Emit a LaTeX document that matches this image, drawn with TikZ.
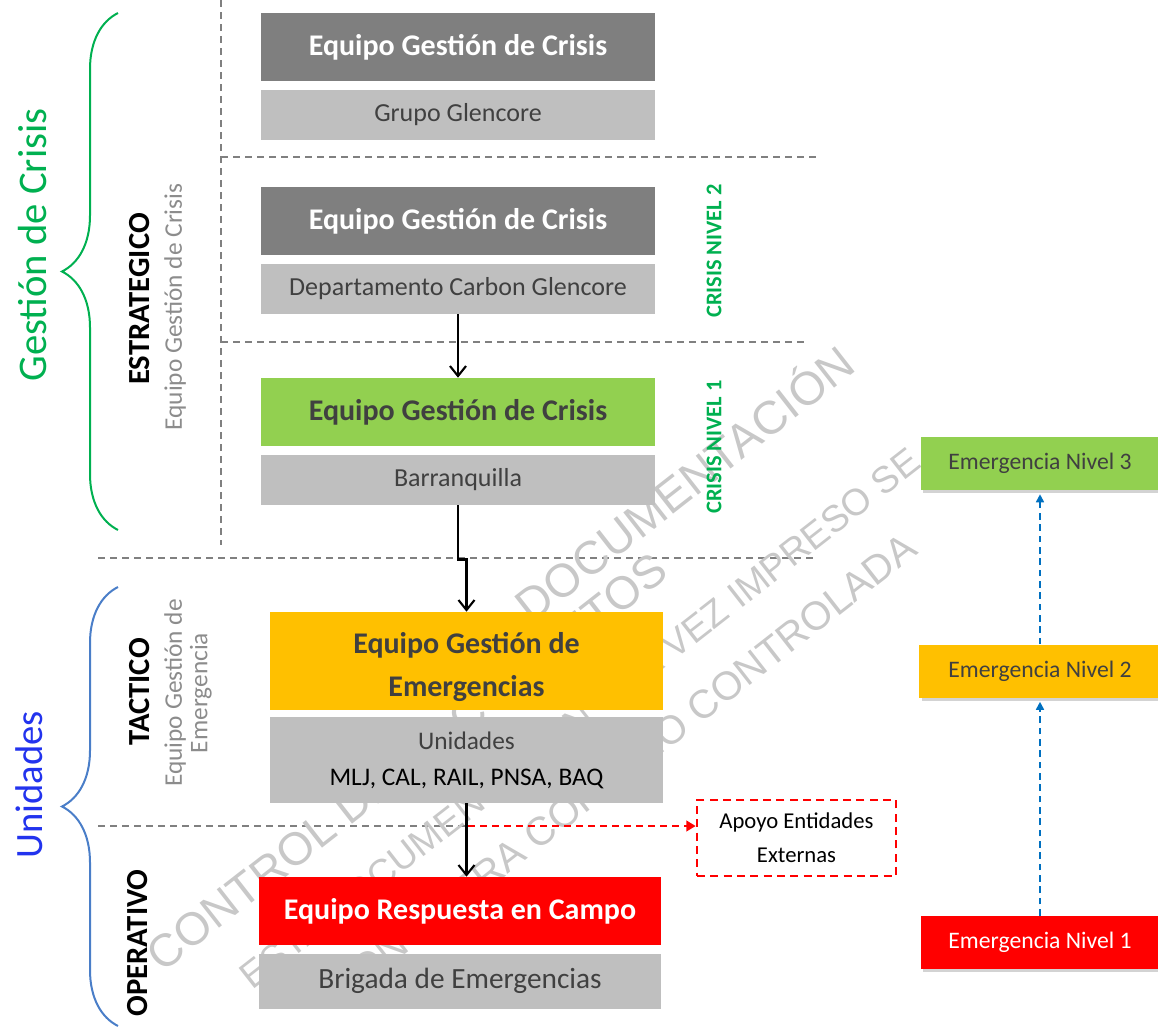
\documentclass[tikz,border=0pt]{standalone}
\usepackage{fontspec}
\setmainfont{Carlito}
\newfontfamily\wmfont{Liberation Sans}
\usepackage{tikz}
\usetikzlibrary{positioning,decorations.pathreplacing,arrows.meta,shadows}

\definecolor{boxdark}{HTML}{7F7F7F}
\definecolor{boxlight}{HTML}{BFBFBF}
\definecolor{lvgreen}{HTML}{92D050}
\definecolor{lvorange}{HTML}{FFC000}
\definecolor{lvred}{HTML}{FF0000}
\definecolor{txtdark}{HTML}{404040}
\definecolor{labelgray}{HTML}{8C8C8C}
\definecolor{crisisgreen}{HTML}{00B050}
\definecolor{unidblue}{HTML}{2233EE}
\definecolor{arrowblue}{HTML}{0070C0}
\definecolor{bracblue}{HTML}{4A7EC8}
\definecolor{sepgray}{HTML}{808080}
\definecolor{wmgray}{HTML}{C8C8C8}

\begin{document}
\begin{tikzpicture}
[x=0.75pt, y=-0.75pt,
every node/.style={inner sep=0pt, align=center},
headbox/.style={fill=#1, minimum width=295.5pt, minimum height=51pt, font=\bfseries\fontsize{22.5}{32}\selectfont},
subbox/.style={fill=boxlight, text=txtdark, minimum width=295.5pt, minimum height=38pt, font=\fontsize{19.5}{27}\selectfont},
sidelbl/.style={rotate=90, font=\bfseries\fontsize{23}{26}\selectfont},
sidesub/.style={rotate=90, text=labelgray, font=\fontsize{19}{19}\selectfont},
crisislbl/.style={rotate=90, text=crisisgreen, font=\bfseries\fontsize{16.8}{18}\selectfont},
nivelbox/.style={fill=#1, minimum width=179pt, minimum height=39.75pt, font=\fontsize{17.75}{20}\selectfont,
	drop shadow={opacity=0.35, shadow xshift=2pt, shadow yshift=-2.5pt}},
sepline/.style={sepgray, line width=1.5pt, dash pattern=on 5pt off 4pt},
blackarrow/.style={line width=1.6pt, -{Straight Barb[length=7.5pt, width=12pt]}},
redarrow/.style={lvred, line width=1.5pt, dash pattern=on 5pt off 4pt, -{Triangle[length=7pt, width=8pt]}},
bluearrow/.style={arrowblue, line width=1.2pt, dash pattern=on 5pt off 3.5pt, -{Triangle[length=6pt, width=6pt]}, shorten >=3pt},
wm/.style={rotate=38, text=wmgray}]
\useasboundingbox (0,0) rectangle (1158,1029);

% separadores
\draw[sepline] (221,0) -- (221,545);
\draw[sepline] (221,157) -- (818,157);
\draw[sepline] (221,342) -- (808,342);
\draw[sepline] (98,558) -- (815,558);
\draw[sepline] (98,826) -- (468,826);

% llaves
\draw[crisisgreen, line width=1.5pt, decorate, decoration={brace, amplitude=42pt}] (118,530) -- (118,13);
\draw[bracblue, line width=1.5pt, decorate, decoration={brace, amplitude=42pt}] (118,1026) -- (118,587);

% marca de agua
\node[wm, font=\wmfont\fontsize{35}{40}\selectfont] (wm1) at (631,522) {ESTA DOCUMENTACIÓN};
\node[wm, font=\wmfont\fontsize{34.5}{40}\selectfont] (wm2) at (407,762) {CONTROL DE DOCUMENTOS};
\node[wm, font=\wmfont\fontsize{28}{32}\selectfont] (wm3) at (578,716) {ESTA DOCUMENTACIÓN UNA VEZ IMPRESO SE};
\node[wm, font=\wmfont\fontsize{30}{34}\selectfont] (wm4) at (622,768) {CONSIDERA COPIA NO CONTROLADA};

% estrategico
\node[headbox=boxdark, text=white] (grp) at (458,47) {Equipo Gestión de Crisis};
\node[subbox, below=6pt of grp] (grpsub) {Grupo Glencore};
\node[headbox=boxdark, text=white] (dep) at (458,221) {Equipo Gestión de Crisis};
\node[subbox, below=6pt of dep] (depsub) {Departamento Carbon Glencore};
\node[headbox=lvgreen, text=txtdark] (baq) at (458,412) {Equipo Gestión de Crisis};
\node[subbox, below=6pt of baq] (baqsub) {Barranquilla};

% tactico
\node[headbox=lvorange, text=txtdark, minimum width=294.75pt, minimum height=73.5pt] (emg) at (466.5,661)
	{\rule{0pt}{25pt}Equipo Gestión de\\Emergencias};
\node[subbox, text=black, minimum width=294.75pt, minimum height=64.5pt, font=\fontsize{19}{27}\selectfont, below=5pt of emg] (uni)
	{{\color{txtdark}Unidades}\\MLJ, CAL, RAIL, PNSA, BAQ};

% operativo
\node[headbox=lvred, text=white, minimum width=301.5pt] (campo) at (460,911) {Equipo Respuesta en Campo};
\node[subbox, minimum width=301.5pt, minimum height=41.25pt, font=\fontsize{22}{26}\selectfont, below=6pt of campo] (brig) {Brigada de Emergencias};
\node[draw=lvred, line width=2pt, dash pattern=on 6pt off 4pt, minimum width=149.25pt, minimum height=57pt,
	font=\fontsize{17}{25.5}\selectfont] (apoyo) at (796.5,838) {Apoyo Entidades\\Externas};

% niveles de emergencia
\node[nivelbox=lvgreen, text=txtdark] (n3) at (1040,463.5) {Emergencia Nivel 3};
\node[nivelbox=lvorange, text=txtdark, minimum width=181.5pt] (n2) at (1040,671) {Emergencia Nivel 2};
\node[nivelbox=lvred, text=white] (n1) at (1040,942.5) {Emergencia Nivel 1};

% etiquetas
\node[rotate=90, text=crisisgreen, font=\fontsize{30.5}{36}\selectfont] (gclbl) at (33,245) {Gestión de Crisis};
\node[rotate=90, text=unidblue, font=\fontsize{29}{34}\selectfont] (unlbl) at (29,785) {Unidades};
\node[sidelbl] (estr) at (140,299) {ESTRATEGICO};
\node[sidesub] (estrsub) at (175,307) {Equipo Gestión de Crisis};
\node[sidelbl] (tact) at (140,692) {TACTICO};
\node[sidesub] (tactsub) at (188,693) {Equipo Gestión de\\Emergencia};
\node[sidelbl] (oper) at (138,943) {OPERATIVO};
\node[crisislbl] (cn2) at (714,251) {CRISIS NIVEL 2};
\node[crisislbl] (cn1) at (714,447) {CRISIS NIVEL 1};

% flechas
\draw[blackarrow] (depsub) -- (baq);
\draw[blackarrow] (baqsub.south) -- ++(0,54) -| (emg.north);
\draw[blackarrow] (uni.south) -- (uni.south |- campo.north);
\coordinate (split) at (468,826);
\draw[redarrow] (split) -- (split -| apoyo.west);
\draw[bluearrow] (n1) -- (n2);
\draw[bluearrow] (n2) -- (n3);
\end{tikzpicture}
\end{document}
